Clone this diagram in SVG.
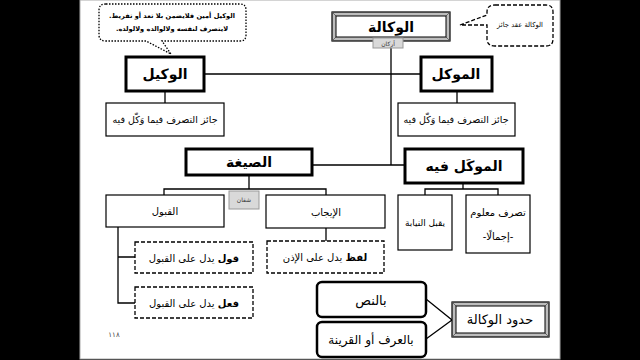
<svg xmlns="http://www.w3.org/2000/svg" width="640" height="360" viewBox="0 0 640 360">
<defs>
<style>
.t{font-family:"DejaVu Sans","Noto Sans",sans-serif;text-anchor:middle;fill:#000}
.h{font-weight:bold;font-size:14px}
.n{font-size:10px}
.j{font-size:9.5px}
.s{font-size:6px;fill:#333}
.c{font-size:6.6px;font-weight:bold}
.thick{fill:#fff;stroke:#000;stroke-width:3}
.thin{fill:#fff;stroke:#000;stroke-width:1.2}
.dash{fill:#fff;stroke:#000;stroke-width:1.3;stroke-dasharray:4 2}
.tag{fill:#d9d9d9;stroke:#999;stroke-width:1}
.ln{fill:none;stroke:#000;stroke-width:1.3}
.bev{fill:#bdbdbd;stroke:#000;stroke-width:1.2}
.bevc{stroke:#555;stroke-width:0.8}
.bevi{fill:#fff;stroke:#000;stroke-width:1}
.rnd{fill:#fff;stroke:#000;stroke-width:2.5}
</style>
</defs>
<rect x="0" y="0" width="640" height="360" fill="#000"/>
<rect x="80" y="0" width="480" height="359" fill="#fff" stroke="#aaa" stroke-width="1"/>

<g id="connectors">
<path class="ln" d="M204,74 H421 M391,48 V165 M312,165 H405"/>
<path class="ln" d="M165,91 V103 M457,91 V103"/>
<path class="ln" d="M463,183 V189 M425,195 V189 H498 V195"/>
<path class="ln" d="M249,174 V189 M164,195 V189 H326 V195"/>
<path class="ln" d="M326,228 V241"/>
<path class="ln" d="M118,227 V303 H135 M118,257 H135"/>
<path class="ln" d="M426,299 L452,320 L426,339"/>
</g>

<g id="callout-wakil">
<path d="M106,4 H240 Q246,4 246,10 V35 Q246,41 240,41 H162 L171,54 L146,41 H106 Q99,41 99,35 V10 Q99,4 106,4 Z" fill="#fff" stroke="#000" stroke-width="1.3" stroke-dasharray="1.5 1.5"/>
<text class="t c" x="172" y="18" direction="rtl">الوكيل أمين فلايضمن بلا تعد أو تفريط.</text>
<text class="t c" x="172" y="31" direction="rtl">لايتصرف لنفسه ولالوالده ولالولده.</text>
</g>

<g id="callout-aqd">
<path d="M495,5 H546 Q553,5 553,12 V39 Q553,46 546,46 H495 Q487,46 487,39 V25 L460,25 L487,15 V12 Q487,5 495,5 Z" fill="#fff" stroke="#000" stroke-width="1.3" stroke-dasharray="4 2"/>
<text class="t" style="font-size:6.8px" x="520" y="27" direction="rtl">الوكالة عقد جائز</text>
</g>

<g id="wakala">
<rect class="bev" x="332" y="12" width="118" height="29"/>
<path class="bevc" d="M332,12 L336,16 M450,12 L446,16 M332,41 L336,37 M450,41 L446,37"/>
<rect class="bevi" x="336" y="16" width="110" height="21"/>
<text class="t h" x="391" y="32" direction="rtl">الوكالة</text>
</g>

<g id="arkan">
<rect class="tag" x="373" y="38" width="30" height="10"/>
<text class="t s" x="388" y="46" direction="rtl">أركان</text>
</g>

<g id="wakil">
<rect class="thick" x="126" y="57" width="78" height="34"/>
<text class="t h" x="165" y="79" direction="rtl">الوكيل</text>
</g>

<g id="muwakkil">
<rect class="thick" x="421" y="57" width="71" height="34"/>
<text class="t h" x="456" y="79" direction="rtl">الموكل</text>
</g>

<g id="wakil-cond">
<rect class="thin" x="106" y="103" width="118" height="33"/>
<text class="t j" x="165" y="123" direction="rtl">جائز التصرف فيما وَكّل فيه</text>
</g>

<g id="muwakkil-cond">
<rect class="thin" x="398" y="103" width="117" height="33"/>
<text class="t j" x="456" y="123" direction="rtl">جائز التصرف فيما وَكّل فيه</text>
</g>

<g id="sigha">
<rect class="thick" x="186" y="149" width="126" height="26"/>
<text class="t h" x="249" y="167" direction="rtl">الصيغة</text>
</g>

<g id="muwakkal-fih">
<rect class="thick" x="405" y="149" width="118" height="34"/>
<text class="t h" x="464" y="171" direction="rtl">الموكَل فيه</text>
</g>

<g id="shiqqan">
<rect class="tag" x="229" y="191" width="30" height="18"/>
<text class="t s" x="244" y="202" direction="rtl">شقان</text>
</g>

<g id="qabul">
<rect class="thin" x="106" y="195" width="118" height="32"/>
<text class="t n" x="165" y="215" direction="rtl">القبول</text>
</g>

<g id="ijab">
<rect class="thin" x="266" y="195" width="119" height="33"/>
<text class="t n" x="326" y="216" direction="rtl">الإيجاب</text>
</g>

<g id="niyaba">
<rect class="thin" x="398" y="195" width="54" height="55"/>
<text class="t" style="font-size:9px" x="425" y="226" direction="rtl">يقبل النيابة</text>
</g>

<g id="tasarruf">
<rect class="thin" x="466" y="195" width="64" height="58"/>
<text class="t n" x="498" y="216" direction="rtl">تصرف معلوم</text>
<text class="t n" x="498" y="240" direction="rtl">-إجمالًا-</text>
</g>

<g id="lafz">
<rect class="dash" x="267" y="241" width="117" height="32"/>
<text class="t n" x="325" y="261" direction="rtl"><tspan font-weight="bold">لفظ</tspan> يدل على الإذن</text>
</g>

<g id="qawl">
<rect class="dash" x="135" y="242" width="118" height="31"/>
<text class="t n" x="194" y="262" direction="rtl"><tspan font-weight="bold">قول</tspan> يدل على القبول</text>
</g>

<g id="fil">
<rect class="dash" x="135" y="287" width="118" height="31"/>
<text class="t n" x="194" y="307" direction="rtl"><tspan font-weight="bold">فعل</tspan> يدل على القبول</text>
</g>

<g id="binnass">
<rect class="rnd" x="317" y="282" width="109" height="35" rx="5"/>
<text class="t" style="font-size:13px" x="371" y="305" direction="rtl">بالنص</text>
</g>

<g id="bilurf">
<rect class="rnd" x="317" y="322" width="109" height="35" rx="5"/>
<text class="t" style="font-size:12px" x="371" y="344" direction="rtl">بالعرف أو القرينة</text>
</g>

<g id="hudud">
<rect class="bev" x="452" y="302" width="97" height="35"/>
<path class="bevc" d="M452,302 L456,306 M549,302 L545,306 M452,337 L456,333 M549,337 L545,333"/>
<rect class="bevi" x="456" y="306" width="89" height="27"/>
<text class="t" style="font-size:13px" x="500" y="324" direction="rtl">حدود الوكالة</text>
</g>

<text class="t" style="font-size:7px;fill:#444" x="114" y="337" direction="rtl">١١٨</text>
</svg>
